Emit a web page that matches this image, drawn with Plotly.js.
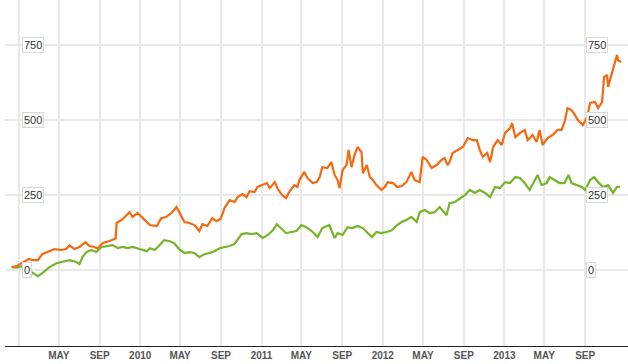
<!DOCTYPE html>
<html>
<head>
<meta charset="utf-8">
<script src="https://cdn.plot.ly/plotly-3.0.1.min.js"></script>
<style>html,body{margin:0;padding:0;background:#fff;}#chart{width:628px;height:364px;}</style>
</head>
<body>
<div id="chart"></div>
<script>
const orangeDates = ["2008-12-10","2008-12-25","2009-01-04","2009-01-31","2009-02-12","2009-02-27","2009-03-12","2009-03-27","2009-04-18","2009-05-08","2009-05-23","2009-06-02","2009-06-17","2009-07-02","2009-07-20","2009-08-01","2009-08-16","2009-08-25","2009-09-10","2009-10-01","2009-10-16","2009-10-19","2009-10-22","2009-11-06","2009-11-15","2009-11-30","2009-12-09","2009-12-24","2010-01-09","2010-01-24","2010-01-30","2010-02-20","2010-03-05","2010-03-20","2010-04-05","2010-04-20","2010-05-05","2010-05-14","2010-05-29","2010-06-13","2010-06-28","2010-07-07","2010-07-22","2010-08-06","2010-08-18","2010-08-31","2010-09-12","2010-09-27","2010-10-12","2010-10-21","2010-11-05","2010-11-17","2010-11-26","2010-12-11","2010-12-20","2011-01-05","2011-01-17","2011-01-26","2011-02-10","2011-02-19","2011-03-04","2011-03-16","2011-03-25","2011-04-10","2011-04-19","2011-04-25","2011-05-04","2011-05-10","2011-05-19","2011-06-04","2011-06-16","2011-06-25","2011-07-03","2011-07-18","2011-07-30","2011-08-09","2011-08-18","2011-08-24","2011-09-02","2011-09-14","2011-09-20","2011-09-29","2011-10-08","2011-10-17","2011-10-29","2011-11-02","2011-11-14","2011-11-23","2011-12-02","2011-12-13","2011-12-28","2012-01-07","2012-01-16","2012-02-01","2012-02-13","2012-02-27","2012-03-12","2012-03-27","2012-04-06","2012-04-21","2012-04-30","2012-05-12","2012-05-27","2012-06-11","2012-06-26","2012-07-05","2012-07-14","2012-07-20","2012-07-29","2012-08-14","2012-08-29","2012-09-13","2012-09-28","2012-10-10","2012-10-19","2012-10-28","2012-11-10","2012-11-19","2012-11-28","2012-12-12","2012-12-24","2013-01-03","2013-01-18","2013-01-24","2013-02-03","2013-02-17","2013-03-03","2013-03-12","2013-03-27","2013-04-08","2013-04-17","2013-04-26","2013-05-11","2013-05-26","2013-06-10","2013-06-22","2013-07-01","2013-07-10","2013-07-22","2013-08-01","2013-08-10","2013-08-25","2013-09-07","2013-09-16","2013-10-01","2013-10-10","2013-10-22","2013-10-28","2013-11-06","2013-11-09","2013-11-21","2013-11-24","2013-11-30","2013-12-06","2013-12-09","2013-12-18"];
const orangeValues = [10,13,20,37,33,33,53,60,70,67,70,83,70,77,93,80,77,72,90,97,103,105,157,167,177,193,177,190,173,157,150,147,173,177,190,210,177,160,157,150,130,153,147,173,163,170,207,233,227,243,253,243,263,260,277,283,290,273,293,270,250,240,260,283,277,300,317,327,307,290,293,310,343,340,360,317,300,273,333,350,400,343,383,410,393,323,350,310,300,283,267,277,293,290,277,280,293,327,300,293,377,367,340,350,367,373,350,360,390,400,410,440,433,433,400,377,390,360,410,433,417,457,473,490,443,457,467,433,450,427,467,417,440,450,467,467,493,540,533,517,500,483,510,557,560,540,560,643,650,610,660,667,700,717,700,693];

const greenDates = ["2008-12-10","2008-12-25","2009-01-10","2009-02-09","2009-02-27","2009-03-12","2009-04-03","2009-04-24","2009-05-11","2009-06-02","2009-06-23","2009-07-02","2009-07-11","2009-07-23","2009-08-07","2009-08-22","2009-09-07","2009-09-25","2009-10-10","2009-10-25","2009-11-09","2009-11-24","2009-12-09","2009-12-30","2010-01-21","2010-01-30","2010-02-14","2010-02-28","2010-03-14","2010-03-29","2010-04-13","2010-04-28","2010-05-14","2010-05-29","2010-06-13","2010-06-28","2010-07-13","2010-07-28","2010-08-12","2010-08-28","2010-09-12","2010-09-27","2010-10-12","2010-10-21","2010-11-02","2010-11-17","2010-12-02","2010-12-17","2011-01-05","2011-01-20","2011-02-04","2011-02-16","2011-03-01","2011-03-16","2011-04-01","2011-04-16","2011-05-01","2011-05-16","2011-06-04","2011-06-19","2011-07-03","2011-07-24","2011-08-09","2011-08-18","2011-09-02","2011-09-17","2011-10-02","2011-10-17","2011-11-02","2011-11-17","2011-11-29","2011-12-13","2011-12-28","2012-01-13","2012-01-28","2012-02-13","2012-02-27","2012-03-12","2012-03-27","2012-04-12","2012-04-21","2012-05-06","2012-05-21","2012-06-05","2012-06-20","2012-07-11","2012-07-20","2012-08-05","2012-08-20","2012-09-04","2012-09-19","2012-10-04","2012-10-19","2012-11-04","2012-11-19","2012-12-04","2012-12-18","2013-01-03","2013-01-18","2013-02-03","2013-02-17","2013-03-03","2013-03-18","2013-04-02","2013-04-11","2013-04-23","2013-05-08","2013-05-17","2013-06-01","2013-06-16","2013-07-01","2013-07-13","2013-07-22","2013-08-07","2013-08-22","2013-09-01","2013-09-16","2013-09-28","2013-10-10","2013-10-25","2013-11-09","2013-11-24","2013-12-06","2013-12-15"];
const greenValues = [10,8,13,-7,-20,-10,10,23,27,33,27,20,43,60,67,60,77,80,83,73,77,73,77,70,63,73,67,83,100,97,90,70,57,60,57,43,53,57,63,73,77,80,87,100,120,123,120,123,107,117,133,153,140,123,127,130,150,143,127,110,140,150,107,123,117,143,140,147,140,123,110,127,123,127,133,150,160,167,177,160,193,200,190,193,210,183,223,227,240,250,267,257,267,257,243,277,273,293,290,310,307,290,267,300,317,283,290,310,300,290,290,317,290,283,277,267,300,310,293,277,283,257,277,277];

const tickDates = ["2009-01-01","2009-05-01","2009-09-01","2010-01-01","2010-05-01","2010-09-01","2011-01-01","2011-05-01","2011-09-01","2012-01-01","2012-05-01","2012-09-01","2013-01-01","2013-05-01","2013-09-01"];
const tickLabels = ["","MAY","SEP","2010","MAY","SEP","2011","MAY","SEP","2012","MAY","SEP","2013","MAY","SEP"];
const yLabelValues = [0, 250, 500, 750];

const traces = [
  {x: greenDates, y: greenValues, type: "scatter", mode: "lines", line: {color: "#77b32a", width: 2.2}, hoverinfo: "skip"},
  {x: orangeDates, y: orangeValues, type: "scatter", mode: "lines", line: {color: "#f5680f", width: 2.2}, hoverinfo: "skip"}
];

const annotations = [];
yLabelValues.forEach(v => {
  [0.0275, 0.9326].forEach(px => {
    annotations.push({
      xref: "paper", yref: "y", x: px, y: v, xanchor: "left", yanchor: "middle",
      text: String(v), showarrow: false,
      font: {family: "Liberation Sans, Arial, sans-serif", size: 11, color: "#333"},
      bgcolor: "#ffffff", bordercolor: "#d8d8d8", borderwidth: 1, borderpad: 1
    });
  });
});

const layout = {
  width: 628, height: 364,
  margin: {l: 5, r: 0, t: 0, b: 18},
  paper_bgcolor: "#fff", plot_bgcolor: "#fff",
  showlegend: false,
  xaxis: {
    type: "date",
    range: ["2008-11-20", "2014-01-08"],
    tickmode: "array", tickvals: tickDates, ticktext: tickLabels,
    showgrid: true, gridcolor: "#e8e8e8", gridwidth: 2,
    showline: true, linecolor: "#222", linewidth: 1,
    ticks: "", zeroline: false,
    tickfont: {family: "Liberation Sans, Arial, sans-serif", size: 10, color: "#555", weight: "bold"}
  },
  yaxis: {
    range: [-253, 900],
    tickmode: "array", tickvals: yLabelValues,
    showticklabels: false, ticks: "",
    showgrid: true, gridcolor: "#e8e8e8", gridwidth: 2,
    zeroline: false, showline: false
  },
  annotations: annotations
};

Plotly.newPlot("chart", traces, layout, {displayModeBar: false, staticPlot: true});
</script>
</body>
</html>
